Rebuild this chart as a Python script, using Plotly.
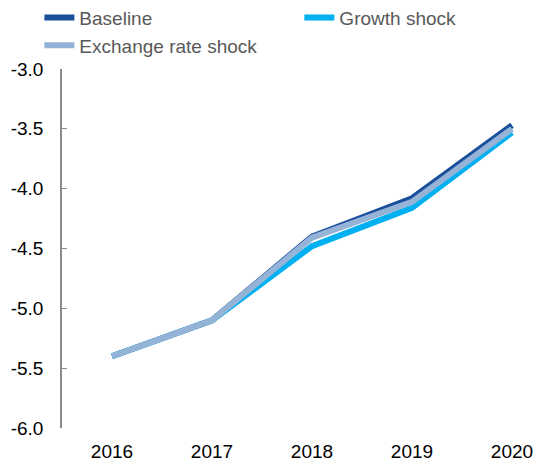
import plotly.graph_objects as go

years = ["2016", "2017", "2018", "2019", "2020"]
baseline = [-5.40, -5.10, -4.40, -4.08, -3.47]
growth_shock = [-5.40, -5.10, -4.48, -4.16, -3.53]
exchange_rate_shock = [-5.40, -5.10, -4.41, -4.11, -3.50]
y_ticks = [-3.0, -3.5, -4.0, -4.5, -5.0, -5.5, -6.0]

fig = go.Figure()
fig.add_trace(go.Scatter(x=years, y=baseline, name="Baseline", mode="lines",
                         line=dict(color="#1A4F9C", width=6)))
fig.add_trace(go.Scatter(x=years, y=growth_shock, name="Growth shock", mode="lines",
                         line=dict(color="#00B0F0", width=6)))
fig.add_trace(go.Scatter(x=years, y=exchange_rate_shock, name="Exchange rate shock", mode="lines",
                         line=dict(color="#95B3D7", width=6)))

fig.update_layout(
    width=554, height=464,
    margin=dict(l=62, r=0, t=69, b=36, autoexpand=False),
    plot_bgcolor="white", paper_bgcolor="white",
    font=dict(family="Liberation Sans, Arial", size=19, color="#000000"),
    showlegend=True,
    legend=dict(orientation="h", x=-0.046, y=1.012, xanchor="left", yanchor="bottom",
                entrywidth=215, entrywidthmode="pixels", traceorder="normal",
                font=dict(size=19, color="#595959"), tracegroupgap=0,
                bgcolor="rgba(0,0,0,0)"),
    xaxis=dict(type="category", range=[-0.5, 4.42], showline=False, showgrid=False,
               ticks="", zeroline=False, tickfont=dict(size=19), ticklabelstandoff=10),
    yaxis=dict(range=[-6.0, -3.0], tickvals=y_ticks, ticktext=[f"{v:.1f}" for v in y_ticks],
               showline=True, linecolor="#8c8c8c", linewidth=1.5, ticks="inside",
               ticklen=5, tickcolor="#8c8c8c", showgrid=False, zeroline=False,
               ticklabelstandoff=13, tickfont=dict(size=19)),
)

fig.write_html("out.html", config={"displayModeBar": False},
               post_script="document.body.style.margin='0px';")
